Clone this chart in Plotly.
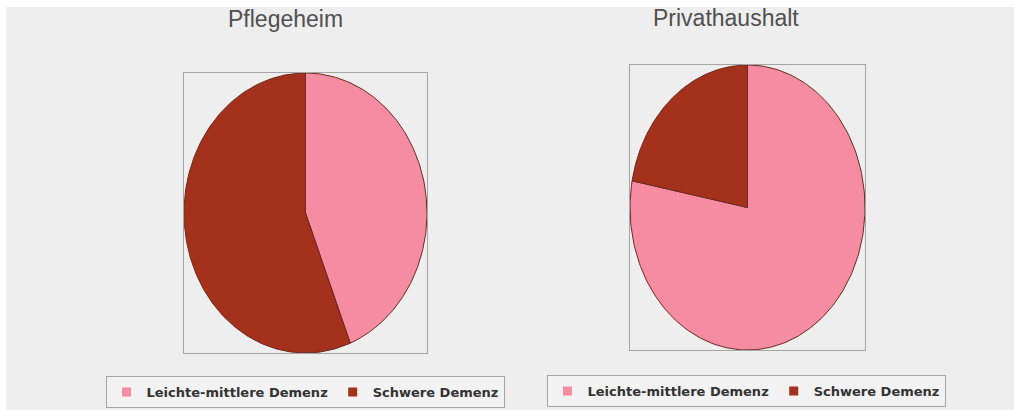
import numpy as np
import plotly.graph_objects as go

categories = ["Leichte-mittlere Demenz", "Schwere Demenz"]
pflegeheim = [44, 56]
privathaushalt = [78, 22]
titles = ["Pflegeheim", "Privathaushalt"]
colors = ["#f58ca2", "#a3311b"]

W, H = 1014, 410
boxes = [  # pixel boxes: x0, x1, y0, y1 (top-based)
    (184, 427, 73, 353),
    (630, 865, 65, 350),
]

fig = go.Figure()

def wedges(values, xa, ya):
    total = float(sum(values))
    cum = 0.0
    for cat, v, col in zip(categories, values, colors):
        a0 = np.pi / 2 - 2 * np.pi * cum / total
        cum += v
        a1 = np.pi / 2 - 2 * np.pi * cum / total
        t = np.linspace(a0, a1, 200)
        xs = np.concatenate([[0], np.cos(t), [0]])
        ys = np.concatenate([[0], np.sin(t), [0]])
        fig.add_trace(go.Scatter(
            x=xs, y=ys, mode="lines", fill="toself", fillcolor=col,
            line=dict(color="#6a2a20", width=1), xaxis=xa, yaxis=ya,
            showlegend=False, hoverinfo="skip"))

wedges(pflegeheim, "x", "y")
wedges(privathaushalt, "x2", "y2")

for li, leg in enumerate(["legend", "legend2"]):
    for cat, col in zip(categories, colors):
        fig.add_trace(go.Scatter(
            x=[None], y=[None], mode="markers", name=cat,
            marker=dict(symbol="square", size=9, color=col),
            legend=leg, xaxis="x" if li == 0 else "x2", yaxis="y" if li == 0 else "y2"))

layout = dict(
    width=W, height=H,
    margin=dict(l=0, r=0, t=0, b=0),
    paper_bgcolor="white", plot_bgcolor="#eeeeee",
    showlegend=True,
)
for i, (x0, x1, y0, y1) in enumerate(boxes):
    sfx = "" if i == 0 else str(i + 1)
    ax = dict(range=[-1, 1], showgrid=False, zeroline=False, showticklabels=False,
              ticks="", showline=True, mirror=True, linecolor="#a4a4a4", linewidth=1.3,
              fixedrange=True)
    layout["xaxis" + sfx] = dict(ax, domain=[x0 / W, x1 / W], anchor="y" + sfx)
    layout["yaxis" + sfx] = dict(ax, domain=[1 - y1 / H, 1 - y0 / H], anchor="x" + sfx)

legfont = dict(family="DejaVu Sans", size=13, color="#333333", weight="bold")
layout["legend"] = dict(orientation="h", x=305 / W, xanchor="center", y=1 - 376 / H,
                        yanchor="top", bgcolor="#f2f2f2", bordercolor="#a4a4a4",
                        borderwidth=1, font=legfont, itemwidth=30)
layout["legend2"] = dict(orientation="h", x=746 / W, xanchor="center", y=1 - 375 / H,
                         yanchor="top", bgcolor="#f2f2f2", bordercolor="#a4a4a4",
                         borderwidth=1, font=legfont, itemwidth=30)

fig.update_layout(**layout)

title_pos = [(285, 19), (726, 18)]
for t, (xc, yc) in zip(titles, title_pos):
    fig.add_annotation(text=t, x=xc / W, y=1 - yc / H, xref="paper", yref="paper",
                       showarrow=False, xanchor="center", yanchor="middle",
                       font=dict(family="Liberation Sans", size=23, color="#505050"))

# grey canvas with thin white strips at left and top
fig.add_shape(type="rect", xref="paper", yref="paper", x0=6 / W, x1=1, y0=0, y1=1 - 7 / H,
              fillcolor="#eeeeee", line=dict(width=0), layer="below")

fig.write_html("out.html", config={"displayModeBar": False},
               post_script="document.body.style.margin='0';")
